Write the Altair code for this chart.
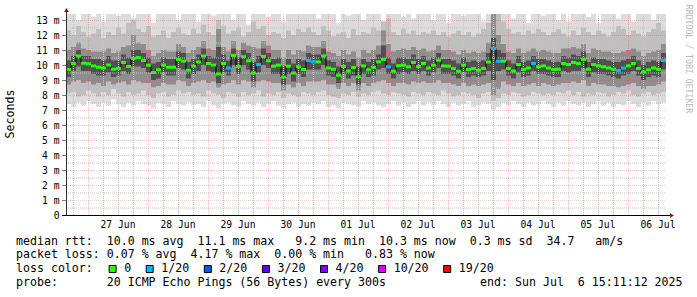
import altair as alt
import pandas as pd

# ------------------------------------------------------------------ data
START_H = 15 + 11 / 60 + 12 / 3600      # 26 Jun 15:11:12, hours since 26 Jun 00:00
STEP_H = 2.0
N = 120

median_ms = [
    9.70, 10.10, 10.60, 10.12, 10.08, 9.94, 9.85, 9.80, 10.00, 9.72, 9.77, 10.17, 9.90, 10.44, 10.50, 10.30, 9.99, 9.50, 9.68, 10.00, 9.85, 9.85, 10.37, 10.26,
    9.65, 9.92, 10.20, 10.60, 10.10, 10.00, 9.40, 10.10, 9.80, 10.64, 9.90, 10.55, 10.28, 9.47, 10.03, 10.57, 10.28, 9.92, 9.99, 9.20, 9.92, 9.47, 9.88, 9.70,
    10.30, 10.21, 10.21, 10.60, 9.80, 9.72, 9.32, 9.90, 9.60, 9.83, 9.22, 9.94, 9.68, 9.85, 10.21, 10.37, 9.88, 9.59, 9.95, 9.99, 9.88, 10.17, 9.90, 10.10,
    9.80, 9.99, 10.32, 9.94, 9.92, 9.77, 9.59, 9.99, 9.70, 9.77, 9.65, 9.77, 10.20, 11.10, 10.25, 10.26, 9.77, 9.60, 10.03, 9.70, 9.80, 10.10, 9.88, 9.94,
    9.80, 9.70, 9.72, 10.10, 10.03, 10.17, 10.10, 10.37, 9.72, 10.03, 9.94, 9.88, 9.80, 9.72, 9.63, 9.80, 9.94, 10.10, 9.77, 9.54, 9.68, 9.80, 9.72, 10.30,
]
loss_level = [
    0, 0, 0, 0, 0, 0, 0, 0, 0, 0, 0, 0, 0, 0, 0, 0, 0, 0, 0, 0, 0, 0, 0, 0,
    0, 0, 0, 0, 0, 0, 0, 0, 1, 0, 0, 0, 0, 0, 1, 0, 0, 0, 0, 0, 0, 0, 0, 0,
    1, 1, 0, 0, 0, 0, 0, 0, 0, 0, 0, 0, 0, 0, 0, 0, 1, 0, 0, 0, 0, 0, 0, 0,
    0, 0, 0, 0, 0, 0, 0, 0, 0, 0, 0, 0, 0, 1, 1, 0, 0, 0, 0, 0, 0, 1, 0, 0,
    0, 0, 0, 0, 0, 0, 0, 0, 0, 0, 0, 0, 0, 0, 1, 1, 0, 0, 0, 0, 0, 0, 0, 1,
]
# smoke: nested ping ranges (outermost = min..max)
band1_hi = [
    13.6, 13.6, 13.0, 13.6, 13.6, 13.2, 13.6, 12.9, 13.6, 13.6, 13.3, 13.6, 13.6, 13.1, 13.6, 13.6, 13.6, 12.8, 13.6, 13.4, 13.6, 13.6, 13.0, 13.6,
    13.6, 13.6, 12.9, 13.6, 13.6, 13.3, 13.6, 13.6, 13.6, 13.0, 13.6, 13.6, 12.7, 13.6, 13.6, 13.6, 13.2, 13.6, 13.6, 12.9, 13.6, 13.6, 13.4, 13.6,
    13.6, 13.6, 13.1, 13.6, 13.6, 13.6, 12.8, 13.6, 13.3, 13.6, 13.6, 13.0, 13.6, 13.6, 13.6, 12.9, 13.6, 13.6, 13.6, 13.2, 13.6, 13.1, 13.6, 13.6,
    13.6, 13.0, 13.6, 13.6, 12.8, 13.6, 13.6, 13.3, 13.6, 13.6, 13.6, 12.9, 13.6, 13.6, 13.6, 13.6, 13.6, 13.1, 13.6, 13.6, 12.8, 13.6, 13.6, 13.3,
    13.6, 13.6, 13.0, 13.6, 12.9, 13.6, 13.6, 13.6, 13.2, 13.6, 12.8, 13.6, 13.6, 13.6, 13.1, 13.6, 13.6, 12.9, 13.6, 13.6, 13.6, 13.0, 13.6, 13.6,
]
band1_lo = [
    7.4, 7.2, 7.5, 7.3, 7.6, 7.4, 7.2, 7.5, 7.3, 7.7, 7.4, 7.2, 7.5, 7.3, 7.6, 7.4, 7.3, 7.1, 7.5, 7.4, 7.2, 7.6, 7.4, 7.3,
    7.5, 7.3, 7.4, 7.2, 7.6, 7.3, 7.1, 7.4, 7.5, 7.3, 7.2, 7.6, 7.4, 7.3, 7.5, 7.2, 7.4, 7.6, 7.3, 7.1, 7.4, 7.5, 7.2, 7.4,
    7.3, 7.5, 7.4, 7.6, 7.2, 7.3, 7.1, 7.5, 7.4, 7.3, 7.2, 7.6, 7.4, 7.5, 7.3, 7.2, 7.4, 7.6, 7.3, 7.5, 7.2, 7.4, 7.6, 7.3,
    7.5, 7.3, 7.6, 7.4, 7.2, 7.5, 7.3, 7.4, 7.6, 7.2, 7.3, 7.5, 7.4, 7.0, 7.2, 7.5, 7.3, 7.6, 7.4, 7.2, 7.5, 7.3, 7.4, 7.6,
    7.4, 7.2, 7.5, 7.3, 7.6, 7.4, 7.3, 7.5, 7.2, 7.4, 7.6, 7.3, 7.5, 7.2, 7.4, 7.3, 7.6, 7.4, 7.2, 7.5, 7.3, 7.6, 7.4, 7.5,
]
band2_hi = [
    12.3, 12.0, 12.6, 12.2, 11.9, 12.1, 12.4, 11.8, 12.2, 12.0, 12.5, 12.1, 12.8, 13.0, 12.4, 12.2, 12.6, 11.9, 12.0, 12.3, 11.8, 12.2, 12.5, 12.1,
    12.0, 12.4, 12.1, 12.7, 12.2, 12.0, 13.0, 12.6, 12.1, 12.3, 12.5, 11.9, 12.2, 12.9, 12.4, 12.6, 12.0, 12.2, 12.1, 11.8, 12.3, 12.0, 12.4, 12.2,
    12.5, 12.2, 12.0, 12.6, 12.3, 11.9, 12.1, 12.2, 11.8, 12.4, 12.0, 12.2, 12.1, 12.5, 12.3, 12.9, 13.1, 12.2, 12.0, 12.4, 12.1, 12.3, 12.0, 12.2,
    12.1, 12.3, 12.0, 12.2, 11.9, 12.1, 12.3, 12.0, 12.2, 11.9, 12.1, 12.4, 12.8, 13.6, 13.4, 12.9, 12.4, 12.1, 12.2, 12.0, 12.3, 12.1, 12.4, 12.2,
    12.0, 12.2, 12.4, 12.1, 11.9, 12.3, 12.0, 12.5, 12.2, 12.0, 12.3, 12.1, 11.9, 12.2, 12.6, 12.4, 12.0, 12.3, 12.1, 11.9, 12.2, 12.4, 12.8, 12.3,
]
band2_lo = [
    8.1, 8.2, 7.9, 8.0, 8.3, 8.1, 7.9, 8.2, 8.0, 8.4, 8.1, 7.9, 8.2, 8.0, 8.1, 8.3, 8.0, 7.8, 8.1, 8.2, 7.9, 8.0, 8.3, 8.1,
    8.2, 8.0, 8.1, 7.9, 8.3, 8.1, 8.0, 7.8, 8.2, 8.1, 7.9, 8.2, 8.0, 8.1, 8.3, 7.9, 8.1, 8.0, 8.2, 7.8, 8.1, 8.0, 7.9, 8.2,
    8.1, 8.0, 8.2, 8.3, 8.0, 7.9, 7.8, 8.1, 8.0, 8.2, 7.9, 8.1, 8.0, 8.2, 8.3, 8.1, 8.0, 8.2, 8.1, 8.0, 7.9, 8.2, 8.1, 8.0,
    8.2, 8.1, 8.0, 8.3, 8.1, 7.9, 8.0, 8.2, 8.1, 8.0, 7.8, 8.1, 8.2, 7.6, 7.8, 8.1, 8.0, 8.2, 8.1, 7.9, 8.0, 8.2, 8.1, 8.0,
    8.1, 8.0, 8.2, 8.1, 8.3, 8.0, 8.2, 7.9, 8.1, 8.0, 8.2, 8.1, 7.9, 8.0, 8.2, 8.1, 8.3, 8.0, 7.9, 8.1, 8.2, 8.0, 8.1, 8.2,
]
band3_hi = [
    11.0, 11.2, 11.5, 11.1, 11.0, 10.9, 10.9, 10.9, 11.1, 10.8, 10.9, 11.2, 11.3, 12.0, 11.5, 11.4, 11.0, 10.6, 10.8, 11.0, 10.9, 10.9, 11.4, 11.2,
    10.8, 11.0, 11.2, 11.6, 11.1, 11.0, 12.4, 11.2, 10.9, 11.6, 11.0, 11.5, 11.3, 11.2, 11.1, 11.6, 11.3, 11.0, 11.0, 10.5, 11.0, 10.7, 11.0, 10.9,
    11.3, 11.2, 11.2, 11.6, 10.9, 10.8, 10.6, 11.0, 10.7, 10.9, 10.5, 11.0, 10.8, 11.0, 11.3, 12.3, 11.4, 10.9, 11.0, 11.1, 11.0, 11.2, 11.0, 11.1,
    10.9, 11.0, 11.3, 11.0, 11.0, 10.9, 10.7, 11.0, 10.8, 10.9, 10.8, 10.9, 11.5, 13.6, 12.0, 11.4, 10.9, 10.8, 11.1, 10.8, 10.9, 11.1, 10.9, 11.0,
    10.9, 10.8, 10.8, 11.1, 11.1, 11.2, 11.1, 11.4, 10.8, 11.1, 11.0, 10.9, 10.9, 10.8, 10.8, 10.9, 11.0, 11.1, 10.9, 10.6, 10.8, 10.9, 11.0, 11.4,
]
band3_lo = [
    8.7, 8.9, 9.0, 8.8, 8.9, 8.7, 8.8, 8.6, 8.9, 8.7, 8.8, 8.9, 8.7, 9.0, 8.9, 8.8, 8.8, 8.5, 8.6, 8.8, 8.7, 8.7, 9.0, 8.9,
    8.6, 8.8, 8.9, 9.0, 8.8, 8.9, 8.5, 8.7, 8.8, 9.0, 8.7, 9.0, 8.9, 8.5, 8.9, 9.0, 8.9, 8.8, 8.8, 8.3, 8.7, 8.5, 8.8, 8.6,
    8.9, 8.9, 8.9, 9.0, 8.7, 8.7, 8.4, 8.8, 8.6, 8.8, 8.3, 8.8, 8.6, 8.8, 8.9, 9.0, 8.8, 8.6, 8.8, 8.8, 8.7, 8.9, 8.8, 8.9,
    8.8, 8.8, 9.0, 8.8, 8.8, 8.7, 8.6, 8.8, 8.6, 8.7, 8.6, 8.7, 8.8, 8.0, 8.4, 8.9, 8.7, 8.6, 8.8, 8.6, 8.7, 8.8, 8.6, 8.8,
    8.7, 8.6, 8.7, 8.8, 8.8, 8.9, 8.8, 9.0, 8.6, 8.8, 8.7, 8.7, 8.6, 8.6, 8.5, 8.6, 8.7, 8.8, 8.6, 8.4, 8.6, 8.6, 8.7, 8.9,
]
band4_hi = [
    10.3, 10.6, 11.0, 10.6, 10.6, 10.4, 10.4, 10.3, 10.6, 10.3, 10.3, 10.7, 10.5, 11.0, 11.0, 10.8, 10.5, 10.1, 10.2, 10.5, 10.4, 10.4, 10.9, 10.8,
    10.2, 10.4, 10.7, 11.1, 10.6, 10.5, 11.2, 10.7, 10.3, 11.1, 10.5, 11.0, 10.8, 10.2, 10.6, 11.1, 10.8, 10.4, 10.5, 9.9, 10.4, 10.1, 10.4, 10.3,
    10.8, 10.7, 10.7, 11.1, 10.3, 10.2, 9.9, 10.4, 10.2, 10.4, 9.9, 10.4, 10.2, 10.4, 10.7, 11.3, 10.5, 10.1, 10.5, 10.5, 10.4, 10.7, 10.4, 10.6,
    10.3, 10.5, 10.8, 10.4, 10.4, 10.3, 10.1, 10.5, 10.2, 10.3, 10.2, 10.3, 10.8, 11.8, 11.0, 10.8, 10.3, 10.1, 10.6, 10.2, 10.3, 10.6, 10.4, 10.4,
    10.3, 10.2, 10.2, 10.6, 10.5, 10.7, 10.6, 10.9, 10.2, 10.5, 10.4, 10.4, 10.3, 10.2, 10.2, 10.3, 10.4, 10.6, 10.3, 10.0, 10.2, 10.3, 10.2, 10.8,
]
band4_lo = [
    9.2, 9.6, 9.9, 9.6, 9.6, 9.4, 9.3, 9.3, 9.5, 9.2, 9.3, 9.6, 9.4, 9.9, 9.9, 9.8, 9.5, 9.0, 9.1, 9.5, 9.3, 9.3, 9.8, 9.7,
    9.1, 9.4, 9.6, 10.0, 9.6, 9.5, 8.8, 9.5, 9.3, 10.0, 9.4, 10.0, 9.7, 8.9, 9.5, 10.0, 9.8, 9.4, 9.4, 8.7, 9.4, 8.9, 9.4, 9.2,
    9.7, 9.7, 9.7, 10.0, 9.3, 9.2, 8.8, 9.4, 9.1, 9.3, 8.7, 9.4, 9.2, 9.3, 9.7, 9.8, 9.4, 9.1, 9.4, 9.5, 9.4, 9.6, 9.4, 9.6,
    9.3, 9.5, 9.8, 9.4, 9.4, 9.3, 9.1, 9.5, 9.2, 9.3, 9.2, 9.3, 9.6, 9.0, 9.6, 9.7, 9.3, 9.1, 9.5, 9.2, 9.3, 9.6, 9.4, 9.4,
    9.3, 9.2, 9.2, 9.6, 9.5, 9.6, 9.6, 9.8, 9.2, 9.5, 9.4, 9.4, 9.3, 9.2, 9.1, 9.3, 9.4, 9.6, 9.3, 9.0, 9.2, 9.3, 9.2, 9.7,
]

LOSS_LABELS = ["0", "1/20", "2/20", "3/20", "4/20", "10/20", "19/20"]
LOSS_COLORS = ["#26ff00", "#00b8ff", "#0059ff", "#5e00ff", "#7e00ff", "#dd00ff", "#ff0000"]

DAY_LABELS = ["27 Jun", "28 Jun", "29 Jun", "30 Jun", "01 Jul", "02 Jul", "03 Jul", "04 Jul", "05 Jul", "06 Jul"]
Y_TICKS = list(range(0, 14))

LINE1 = "median rtt:  10.0 ms avg  11.1 ms max   9.2 ms min  10.3 ms now  0.3 ms sd  34.7   am/s"
LINE2 = "packet loss: 0.07 % avg  4.17 % max  0.00 % min   0.83 % now"
LINE3 = "loss color:"
LINE4 = "probe:       20 ICMP Echo Pings (56 Bytes) every 300s"
LINE4R = "end: Sun Jul  6 15:11:12 2025"

for arr in (median_ms, loss_level, band1_hi, band1_lo, band2_hi, band2_lo,
            band3_hi, band3_lo, band4_hi, band4_lo):
    assert len(arr) == N, len(arr)

# ------------------------------------------------------------------ layout
W, H = 600, 201
Y_MAX = 13.4          # 15 px per ms
X0 = START_H
X1 = START_H + N * STEP_H
MONO = "DejaVu Sans Mono"
CH = 7.0          # legend character advance (px)
LX = 16 - 66      # legend left edge in plot coordinates
XOFF = 0.47       # puts vertical grid lines on pixel centres

xs = alt.Scale(domain=[X0, X1], nice=False, zero=False)
ys = alt.Scale(domain=[0, Y_MAX], nice=False, zero=False)


def nb(s):
    return s.replace(" ", "\u00a0")


t0 = [X0 + i * STEP_H for i in range(N)]
t1 = [X0 + (i + 1) * STEP_H for i in range(N)]

layers = []

band_defs = [(band1_lo, band1_hi, "#dcdcdc"), (band2_lo, band2_hi, "#bfbfbf"),
             (band3_lo, band3_hi, "#8e8e8e"), (band4_lo, band4_hi, "#505050")]
for lo, hi, col in band_defs:
    df = pd.DataFrame({"t0": t0, "t1": t1, "lo": lo, "hi": hi})
    layers.append(
        alt.Chart(df).mark_rect(color=col, clip=True).encode(
            x=alt.X("t0:Q", scale=xs, axis=None), x2="t1:Q",
            y=alt.Y("lo:Q", scale=ys, axis=None), y2="hi:Q")
    )

# grid
y_minor = pd.DataFrame({"v": [k + 0.5 for k in range(0, 13)]})
y_major = pd.DataFrame({"v": list(range(1, 14))})
x_major = pd.DataFrame({"h": [24.0 * k for k in range(1, 11)]})
x_minor = pd.DataFrame({"h": [h for h in [6.0 * k for k in range(3, 43)]
                              if h % 24 != 0 and X0 < h < X1]})

GRID = dict(color="#c4c4c4", strokeDash=[1, 1], strokeWidth=1)
MGRID = dict(color="#ff4040", opacity=0.3, strokeDash=[1, 1], strokeWidth=1)
layers.append(alt.Chart(y_minor).mark_rule(yOffset=0.5, **GRID).encode(
    y=alt.Y("v:Q", scale=ys, axis=None), x=alt.value(0), x2=alt.value(W)))
layers.append(alt.Chart(x_minor).mark_rule(xOffset=XOFF, **GRID).encode(
    x=alt.X("h:Q", scale=xs, axis=None), y=alt.value(0), y2=alt.value(H)))
layers.append(alt.Chart(y_major).mark_rule(yOffset=0.5, **MGRID).encode(
    y=alt.Y("v:Q", scale=ys, axis=None), x=alt.value(0), x2=alt.value(W)))
layers.append(alt.Chart(x_major).mark_rule(xOffset=XOFF, **MGRID).encode(
    x=alt.X("h:Q", scale=xs, axis=None), y=alt.value(0), y2=alt.value(H)))

# median line + loss coloured segments
med_line = pd.DataFrame({"t": t0 + [X1], "m": median_ms + [median_ms[-1]]})
layers.append(alt.Chart(med_line).mark_line(color="#000000", strokeWidth=1, interpolate="step-after", clip=True).encode(
    x=alt.X("t:Q", scale=xs, axis=None), y=alt.Y("m:Q", scale=ys, axis=None)))
seg = pd.DataFrame({"t0": t0, "t1": t1, "m": median_ms,
                    "loss": [LOSS_LABELS[k] for k in loss_level]})
layers.append(alt.Chart(seg).mark_rule(strokeWidth=3, clip=True).encode(
    x=alt.X("t0:Q", scale=xs, axis=None), x2="t1:Q",
    y=alt.Y("m:Q", scale=ys, axis=None),
    color=alt.Color("loss:N", scale=alt.Scale(domain=LOSS_LABELS, range=LOSS_COLORS), legend=None)))

# axes
ytick_df = pd.DataFrame({"v": Y_TICKS,
                         "lab": [nb("0  ") if v == 0 else f"{v} m" for v in Y_TICKS]})
layers.append(alt.Chart(ytick_df).mark_rule(color="#808080", yOffset=0.5).encode(
    y=alt.Y("v:Q", scale=ys, axis=None), x=alt.value(-4), x2=alt.value(0)))
layers.append(alt.Chart(ytick_df).mark_text(font=MONO, fontSize=9.7, align="right", baseline="middle", color="#000000", dy=1).encode(
    y=alt.Y("v:Q", scale=ys, axis=None), x=alt.value(-6.5), text="lab:N"))

day_df = pd.DataFrame({"h": [36.0 + 24 * k for k in range(len(DAY_LABELS))], "lab": DAY_LABELS})
layers.append(alt.Chart(day_df).mark_text(font=MONO, fontSize=9.7, align="center", baseline="middle", color="#000000").encode(
    x=alt.X("h:Q", scale=xs, axis=None), y=alt.value(H + 10), text="lab:N"))

one = pd.DataFrame({"k": [0]})
layers.append(alt.Chart(one).mark_rule(color="#303030", strokeWidth=1).encode(
    x=alt.value(0.5), y=alt.value(-5), y2=alt.value(H)))
layers.append(alt.Chart(one).mark_rule(color="#000000", strokeWidth=1).encode(
    y=alt.value(H + 0.5), x=alt.value(-4), x2=alt.value(W + 5)))
layers.append(alt.Chart(one).mark_point(shape="triangle-up", filled=True, color="#8b1010", size=22, opacity=1).encode(
    x=alt.value(0.5), y=alt.value(-4)))
layers.append(alt.Chart(one).mark_point(shape="triangle-right", filled=True, color="#8b1010", size=22, opacity=1).encode(
    x=alt.value(W + 6), y=alt.value(H + 0.5)))

# titles
layers.append(alt.Chart(one).mark_text(text="Seconds", font=MONO, fontSize=11.6, angle=270, align="center", baseline="middle", color="#000000").encode(
    x=alt.value(-55), y=alt.value(100)))
layers.append(alt.Chart(one).mark_text(text="RRDTOOL / TOBI OETIKER", font=MONO, fontSize=8.2, angle=90, align="center", baseline="middle", color="#b8b8b8").encode(
    x=alt.value(622), y=alt.value(45)))

# legend text lines
for txt, yy, xx in [(LINE1, 227.5, LX), (LINE2, 241, LX), (LINE3, 255, LX), (LINE4, 269, LX),
                    (LINE4R, 269, LX + CH * 66.3)]:
    layers.append(alt.Chart(one).mark_text(text=nb(txt), font=MONO, fontSize=11.6, align="left", baseline="middle", color="#000000").encode(
        x=alt.value(xx), y=alt.value(yy)))

# loss colour legend boxes (laid out along the text line)
col = 13.3
bx, lx = [], []
for lab in LOSS_LABELS:
    bx.append(LX + CH * col)
    lx.append(LX + CH * (col + 2.15))
    col = col + 2.15 + len(lab) + 2.15
leg = pd.DataFrame({"bx": bx, "bx2": [b + 7 for b in bx], "lx": lx, "lab": LOSS_LABELS})
layers.append(alt.Chart(leg).mark_rect(stroke="#000000", strokeWidth=1).encode(
    x=alt.X("bx:Q", scale=None), x2="bx2:Q", y=alt.value(251.5), y2=alt.value(258.5),
    color=alt.Color("lab:N", scale=alt.Scale(domain=LOSS_LABELS, range=LOSS_COLORS), legend=None)))
layers.append(alt.Chart(leg).mark_text(font=MONO, fontSize=11.6, align="left", baseline="middle", color="#000000").encode(
    x=alt.X("lx:Q", scale=None), y=alt.value(255), text="lab:N"))

chart = alt.layer(*layers).resolve_scale(x="independent", y="independent", color="independent").properties(
    width=W, height=H,
    padding={"left": 66, "top": 14, "right": 31, "bottom": 82},
    autosize=alt.AutoSizeParams(type="none"),
    background="#ffffff",
).configure_view(strokeWidth=0)

chart.save("out.html", embed_options={"renderer": "svg", "actions": False})
